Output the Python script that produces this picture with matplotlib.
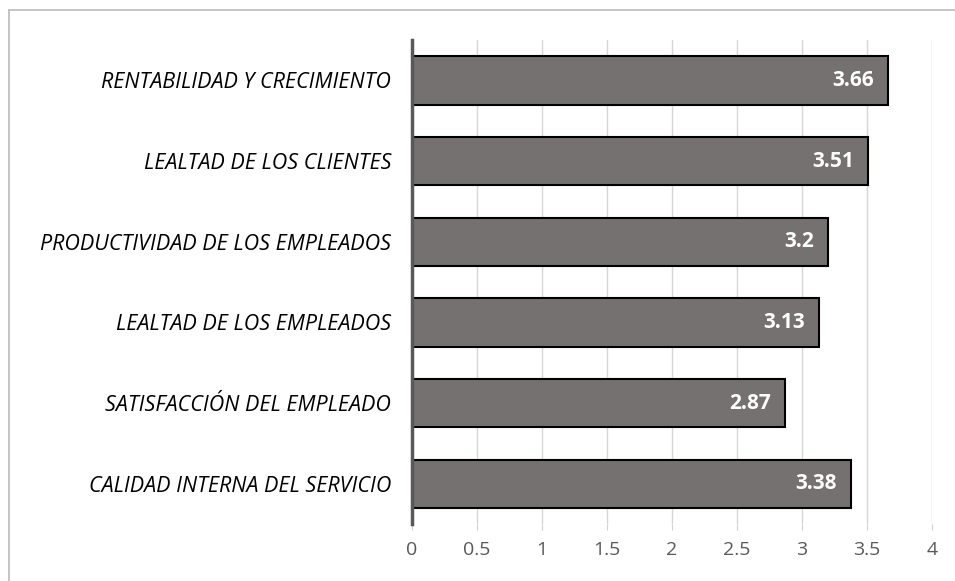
import matplotlib.pyplot as plt
from matplotlib.lines import Line2D

categories = ["CALIDAD INTERNA DEL SERVICIO", "SATISFACCIÓN DEL EMPLEADO",
              "LEALTAD DE LOS EMPLEADOS", "PRODUCTIVIDAD DE LOS EMPLEADOS",
              "LEALTAD DE LOS CLIENTES", "RENTABILIDAD Y CRECIMIENTO"]
values = [3.38, 2.87, 3.13, 3.2, 3.51, 3.66]
labels = ["3.38", "2.87", "3.13", "3.2", "3.51", "3.66"]
xticks = [0, 0.5, 1, 1.5, 2, 2.5, 3, 3.5, 4]
xticklabels = ["0", "0.5", "1", "1.5", "2", "2.5", "3", "3.5", "4"]

plt.rcParams['font.family'] = ['Open Sans', 'DejaVu Sans']

fig = plt.figure(figsize=(9.55, 5.81), dpi=100)
ax = fig.add_axes([0.4314, 0.098, 0.5446, 0.833])

# chart frame: only top and left edges show
fig.add_artist(Line2D([0.009, 0.009], [0.0, 0.983], transform=fig.transFigure,
                      color='#c0c0c0', lw=1.3))
fig.add_artist(Line2D([0.009, 1.0], [0.983, 0.983], transform=fig.transFigure,
                      color='#c0c0c0', lw=1.3))

ypos = range(len(categories))
ax.barh(ypos, values, height=0.6, color='#757171', edgecolor='black', lw=1.5, zorder=3)
for y, v, t in zip(ypos, values, labels):
    ax.text(v - 0.11, y, t, ha='right', va='center', color='white',
            fontsize=15, fontweight='bold', zorder=4)

ax.set_xlim(0, 4)
ax.set_ylim(-0.5, 5.5)
ax.set_xticks(xticks)
ax.set_xticklabels(xticklabels, fontsize=14, color='#595959')
ax.set_yticks(list(ypos))
ax.set_yticklabels(categories, fontsize=15.5, style='italic', color='black')
ax.tick_params(axis='y', length=0, pad=15)
ax.tick_params(axis='x', length=4, color='#d0d0d0', pad=8)
ax.grid(axis='x', color='#d6d6d6', lw=1, zorder=0)
for s in ['top', 'right', 'bottom']:
    ax.spines[s].set_visible(False)
ax.spines['left'].set_color('#595959')
ax.spines['left'].set_linewidth(2.5)
ax.spines['left'].set_zorder(5)

fig.savefig("out.png", dpi=100)
